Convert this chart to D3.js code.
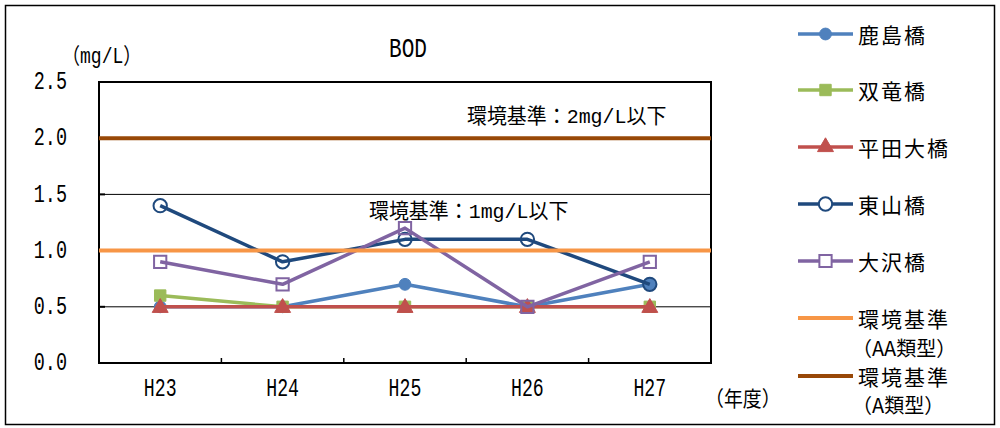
<!DOCTYPE html>
<html>
<head>
<meta charset="utf-8">
<script src="https://cdn.jsdelivr.net/npm/d3@7"></script>
<style>
  html, body { margin: 0; padding: 0; background: #fff; }
  svg text { fill: #000; font-family: "Liberation Mono", "Noto Sans CJK JP", sans-serif; }
  svg text.cjk { font-family: "Noto Sans CJK JP", sans-serif; }
</style>
</head>
<body>
<svg id="chart" width="1000" height="428"></svg>
<script>
// Fiscal years (Heisei era)
const years = ["H23", "H24", "H25", "H26", "H27"];

// BOD (mg/L) at each monitoring point
const kashimabashi = [0.5, 0.5, 0.7, 0.5, 0.7];
const soryubashi   = [0.6, 0.5, 0.5, 0.5, 0.5];
const hiratabashi  = [0.5, 0.5, 0.5, 0.5, 0.5];
const higashiyama  = [1.4, 0.9, 1.1, 1.1, 0.7];
const osawabashi   = [0.9, 0.7, 1.2, 0.5, 0.9];

// Environmental standards (mg/L)
const standardAA = 1.0;
const standardA  = 2.0;

// Axis ticks
const yTicks = [0.0, 0.5, 1.0, 1.5, 2.0, 2.5];

const seriesNames = ["鹿島橋", "双竜橋", "平田大橋", "東山橋", "大沢橋"];
const seriesData = [kashimabashi, soryubashi, hiratabashi, higashiyama, osawabashi];
const seriesStyle = [
  { color: "#4F81BD", symbol: d3.symbolCircle,   size: 110, fill: true },
  { color: "#9BBB59", symbol: d3.symbolSquare,   size: 130, fill: true },
  { color: "#C0504D", symbol: d3.symbolTriangle, size: 110, fill: true },
  { color: "#1F497D", symbol: d3.symbolCircle,   size: 140, fill: false },
  { color: "#8064A2", symbol: d3.symbolSquare,   size: 150, fill: false }
];
const stdNames = [["環境基準", "（AA類型）"], ["環境基準", "（A類型）"]];
const stdValues = [standardAA, standardA];
const stdColors = ["#F79646", "#984807"];

const svg = d3.select("#chart");

// outer frame
svg.append("rect").attr("x", 5.5).attr("y", 5.5).attr("width", 989).attr("height", 419)
  .attr("fill", "#fff").attr("stroke", "#000").attr("stroke-width", 1.5);

const plot = { left: 99, right: 711, top: 82, bottom: 363 };
const x = d3.scaleBand().domain(years).range([plot.left, plot.right]).padding(0);
const cx = d => x(d) + x.bandwidth() / 2;
const y = d3.scaleLinear().domain([0, 2.5]).range([plot.bottom, plot.top]);

// gridlines
svg.append("g").selectAll("line").data(yTicks.filter(v => v > 0 && v < 2.5)).join("line")
  .attr("x1", plot.left).attr("x2", plot.right)
  .attr("y1", d => y(d)).attr("y2", d => y(d))
  .attr("stroke", "#000").attr("stroke-width", 1);

// y tick marks
svg.append("g").selectAll("line").data(yTicks).join("line")
  .attr("x1", plot.left).attr("x2", plot.left + 6)
  .attr("y1", d => y(d)).attr("y2", d => y(d))
  .attr("stroke", "#000").attr("stroke-width", 2);

// x tick marks on category boundaries
const bounds = years.map(d => x(d)).concat([plot.right]);
svg.append("g").selectAll("line").data(bounds).join("line")
  .attr("x1", d => d).attr("x2", d => d)
  .attr("y1", plot.bottom - 5).attr("y2", plot.bottom)
  .attr("stroke", "#000").attr("stroke-width", 1.5);

// plot border
svg.append("rect").attr("x", plot.left).attr("y", plot.top)
  .attr("width", plot.right - plot.left).attr("height", plot.bottom - plot.top)
  .attr("fill", "none").attr("stroke", "#000").attr("stroke-width", 2);

// squeezed text helper (narrow half-width glyphs)
function label(sel, tx, ty, str, size, anchor, sx, cls) {
  return sel.append("text")
    .attr("class", cls || null)
    .attr("transform", `translate(${tx},${ty}) scale(${sx},1)`)
    .attr("text-anchor", anchor)
    .attr("dominant-baseline", "central")
    .style("font-size", size + "px")
    .text(str);
}

// y tick labels
const yl = svg.append("g");
yTicks.forEach(v => label(yl, 67, y(v) + 1, v.toFixed(1), 25, "end", 0.74));

// x tick labels
const xl = svg.append("g");
years.forEach(v => label(xl, cx(v), 389, v, 26, "middle", 0.7));

// unit labels
label(svg, 62, 57, "（mg/L）", 22, "start", 0.82);
label(svg, 705, 400, "（年度）", 21, "start", 0.9);

// title
label(svg, 408, 50, "BOD", 27, "middle", 0.78);

// series lines and markers
const line = d3.line().x((d, i) => cx(years[i])).y(d => y(d));
seriesData.forEach((data, k) => {
  const st = seriesStyle[k];
  const g = svg.append("g");
  g.append("path").datum(data).attr("d", line)
    .attr("fill", "none").attr("stroke", st.color).attr("stroke-width", 3.5)
    .attr("stroke-linejoin", "round");
  g.selectAll("path.m").data(data).join("path").attr("class", "m")
    .attr("d", d3.symbol().type(st.symbol).size(st.size))
    .attr("transform", (d, i) => `translate(${cx(years[i])},${y(d) + (st.symbol === d3.symbolTriangle ? 1 : 0)})`)
    .attr("fill", st.fill ? st.color : "none")
    .attr("stroke", st.color).attr("stroke-width", st.fill ? 1 : 2);
});

// standard lines
stdValues.forEach((v, k) => {
  svg.append("line").attr("x1", plot.left).attr("x2", plot.right)
    .attr("y1", y(v)).attr("y2", y(v))
    .attr("stroke", stdColors[k]).attr("stroke-width", 4);
});

// standard annotations
label(svg, 467, 117, "環境基準：2mg/L以下", 21, "start", 0.95);
label(svg, 369, 212, "環境基準：1mg/L以下", 21, "start", 0.95);

// legend
const legendY = [34, 90, 147, 204, 261, 318, 376];
const lg = svg.append("g");
seriesNames.forEach((name, k) => {
  const st = seriesStyle[k];
  const ly = legendY[k];
  lg.append("line").attr("x1", 798).attr("x2", 853).attr("y1", ly).attr("y2", ly)
    .attr("stroke", st.color).attr("stroke-width", 3.5);
  lg.append("path").attr("d", d3.symbol().type(st.symbol).size(st.size))
    .attr("transform", `translate(825.5,${ly})`)
    .attr("fill", st.fill ? st.color : "#fff")
    .attr("stroke", st.color).attr("stroke-width", st.fill ? 1 : 2);
  label(lg, 858, ly, name, 21, "start", 1, "cjk").attr("letter-spacing", "2px");
});
stdNames.forEach((lines, k) => {
  const ly = legendY[5 + k];
  lg.append("line").attr("x1", 798).attr("x2", 853).attr("y1", ly).attr("y2", ly)
    .attr("stroke", stdColors[k]).attr("stroke-width", 4);
  label(lg, 858, ly, lines[0], 21, "start", 1, "cjk").attr("letter-spacing", "2px");
  label(lg, 852, ly + (k === 0 ? 29 : 28), lines[1], 20, "start", 1, "cjk");
});
</script>
</body>
</html>
